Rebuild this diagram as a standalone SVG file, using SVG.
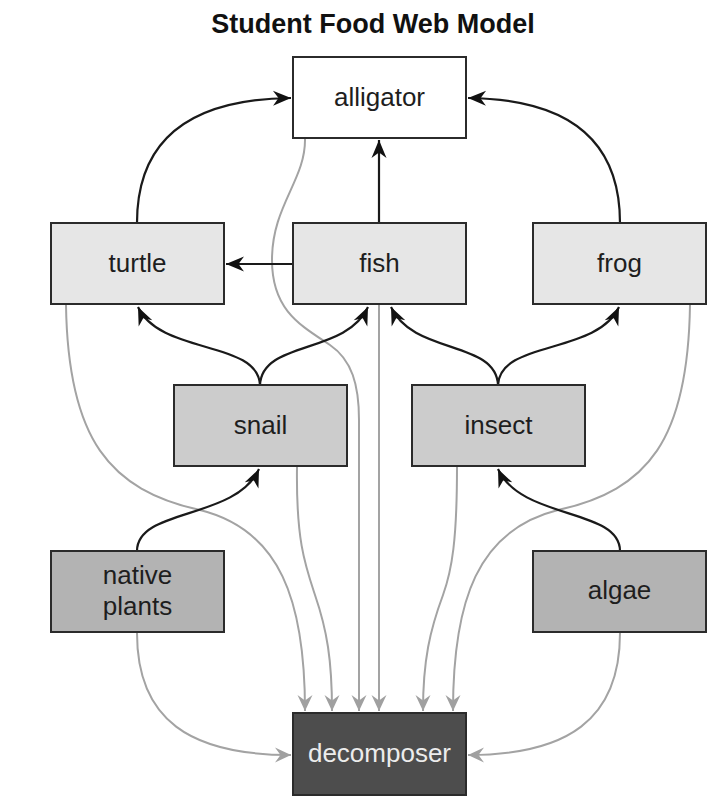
<svg xmlns="http://www.w3.org/2000/svg" width="728" height="812" viewBox="0 0 728 812">
<style>
.box{stroke:#2b2b2b;stroke-width:2}
.lbl{font-family:"Liberation Sans",Arial,sans-serif;font-size:26px;fill:#1e1e1e;text-anchor:middle}
.title{font-family:"Liberation Sans",Arial,sans-serif;font-size:27px;font-weight:bold;fill:#111;text-anchor:middle}
.eat{fill:none;stroke:#1a1a1a;stroke-width:2.2;marker-end:url(#ab)}
.dec{fill:none;stroke:#a3a3a3;stroke-width:2;marker-end:url(#ag)}
</style>
<defs>
<marker id="ab" markerUnits="userSpaceOnUse" viewBox="-19 -9 20 18" markerWidth="20" markerHeight="18" refX="0" refY="0" orient="auto">
<path d="M0,0 L-18,-7.5 L-12.5,0 L-18,7.5 Z" fill="#111"/>
</marker>
<marker id="ag" markerUnits="userSpaceOnUse" viewBox="-17 -9 18 18" markerWidth="18" markerHeight="18" refX="0" refY="0" orient="auto">
<path d="M0,0 L-16,-7.5 L-10.5,0 L-16,7.5 Z" fill="#a0a0a0"/>
</marker>
</defs>
<rect width="728" height="812" fill="#fff"/>
<text class="title" x="373" y="33">Student Food Web Model</text>
<g id="connectors">
<path class="dec" d="M305,138 C306,180 272,205 272,260 C272,310 300,325 330,345 C352,360 359,385 359,420 L359,711"/>
<path class="dec" d="M379,305 L379,711"/>
<path class="dec" d="M66,305 C68,440 110,490 200,510 C280,530 305,600 305,711"/>
<path class="dec" d="M690,305 C688,440 648,490 558,510 C478,530 453,600 453,711"/>
<path class="dec" d="M297,467 C296,540 305,565 315,595 C327,630 332,660 332,711"/>
<path class="dec" d="M457,467 C457,540 452,570 443,595 C430,630 423,660 423,711"/>
<path class="dec" d="M137,633 C137,720 190,755 291,755"/>
<path class="dec" d="M620,633 C620,720 567,755 468,755"/>
<path class="eat" d="M137,223 C137,140 190,99 291,98"/>
<path class="eat" d="M620,223 C620,140 568,99 468,98"/>
<path class="eat" d="M379,223 L379,140"/>
<path class="eat" d="M293,264 L226,264"/>
<path class="eat" d="M260,385 C258,340 160,355 138,307"/>
<path class="eat" d="M260,385 C262,340 346,355 368,307"/>
<path class="eat" d="M498,385 C496,340 413,355 391,307"/>
<path class="eat" d="M498,385 C500,340 597,355 619,307"/>
<path class="eat" d="M137,551 C137,508 236,520 259,469"/>
<path class="eat" d="M620,551 C620,508 521,520 498,469"/>
</g>
<g id="alligator"><rect class="box" x="293" y="57" width="173" height="81" fill="#ffffff"/><text class="lbl" x="379.5" y="106">alligator</text></g>
<g id="turtle"><rect class="box" x="51" y="223" width="173" height="81" fill="#e6e6e6"/><text class="lbl" x="137.5" y="272">turtle</text></g>
<g id="fish"><rect class="box" x="293" y="223" width="173" height="81" fill="#e6e6e6"/><text class="lbl" x="379.5" y="272">fish</text></g>
<g id="frog"><rect class="box" x="533" y="223" width="173" height="81" fill="#e6e6e6"/><text class="lbl" x="619.5" y="272">frog</text></g>
<g id="snail"><rect class="box" x="174" y="385" width="173" height="81" fill="#cccccc"/><text class="lbl" x="260.5" y="434">snail</text></g>
<g id="insect"><rect class="box" x="412" y="385" width="173" height="81" fill="#cccccc"/><text class="lbl" x="498.5" y="434">insect</text></g>
<g id="native-plants"><rect class="box" x="51" y="551" width="173" height="81" fill="#b3b3b3"/><text class="lbl" x="137.5" y="584">native</text><text class="lbl" x="137.5" y="615">plants</text></g>
<g id="algae"><rect class="box" x="533" y="551" width="173" height="81" fill="#b3b3b3"/><text class="lbl" x="619.5" y="599">algae</text></g>
<g id="decomposer"><rect class="box" x="293" y="713" width="173" height="82" fill="#4d4d4d"/><text class="lbl" x="379.5" y="762" style="fill:#ececec">decomposer</text></g>
</svg>
